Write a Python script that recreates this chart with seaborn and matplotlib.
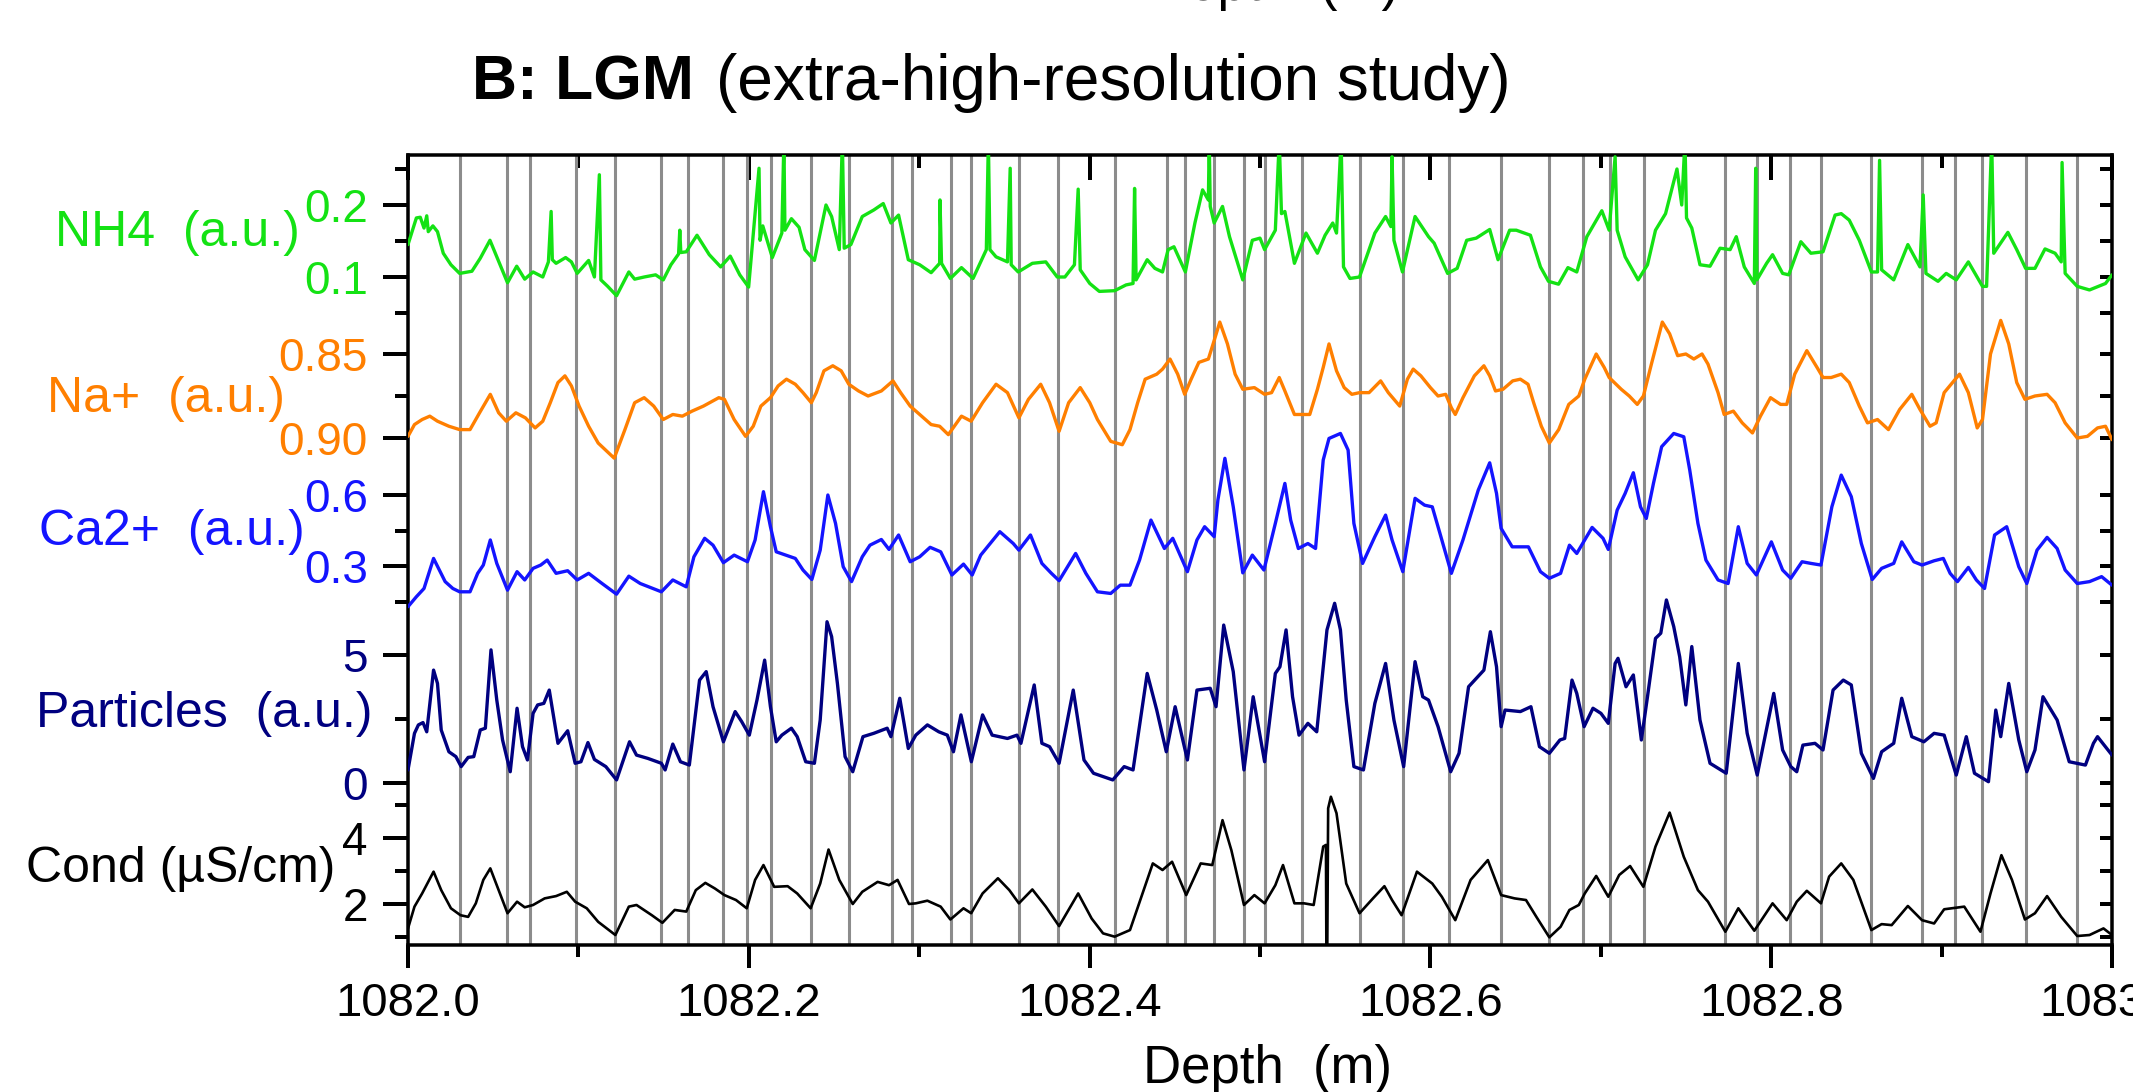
import matplotlib
matplotlib.use("Agg")
import numpy as np
import pandas as pd
import matplotlib.pyplot as plt
import seaborn as sns
from matplotlib.ticker import NullFormatter

OUT_PATH = "out.png"

# depth of the left edge of the section (m); every position below is in mm under it
SECTION_TOP = 1082.0

# annual layer marks
LAYER_MM = [30.3, 58.3, 71.6, 98.5, 121.2, 148.7, 164.4, 184.6, 198.7, 213.1,
            236.7, 258.7, 283.9, 295.7, 318.7, 330.6, 358.5, 381.4, 415.1, 445.6,
            455.7, 473.1, 490.6, 502.7, 524.7, 558.4, 584.2, 611.2, 641.5, 669.8,
            689.4, 705.3, 725.4, 773.1, 791.8, 811.0, 829.2, 858.8, 888.4, 907.9,
            923.5, 949.3, 979.6]

NH4_MM = [0.0, 4.9, 7.2, 9.4, 11.0, 11.9, 14.6, 17.3, 20.7, 25.2, 30.3, 37.5, 42.4, 48.1,
          52.1, 58.4, 63.8, 68.5, 73.4, 79.1, 82.4, 84.0, 84.7, 86.9, 92.5, 95.9, 99.3,
          106.0, 109.4, 112.3, 113.2, 117.2, 122.4, 129.6, 133.0, 138.6, 145.3, 149.8,
          154.3, 158.8, 159.5, 160.1, 163.3, 169.6, 176.8, 183.5, 189.1, 194.7, 199.9,
          206.0, 206.6, 208.2, 213.8, 219.4, 220.6, 221.2, 225.0, 229.5, 232.9, 238.5,
          245.3, 248.6, 253.1, 254.9, 256.0, 259.9, 266.6, 273.3, 278.9, 283.4, 287.9,
          293.6, 300.3, 307.0, 312.0, 312.2, 313.1, 318.3, 324.8, 331.6, 339.4, 340.6,
          341.5, 345.1, 351.8, 353.4, 354.0, 358.1, 366.4, 374.3, 381.0, 385.5, 391.1,
          393.3, 394.5, 400.1, 405.7, 414.7, 421.4, 425.5, 426.4, 427.3, 433.8, 438.3,
          442.8, 446.1, 449.5, 456.2, 461.8, 466.3, 469.7, 470.2, 470.8, 473.1, 478.0,
          482.1, 489.9, 495.5, 500.0, 502.7, 509.0, 511.3, 512.6, 514.6, 520.2, 527.0,
          533.7, 538.2, 542.7, 544.9, 547.6, 549.0, 552.8, 558.4, 567.4, 573.7, 576.8,
          577.5, 578.6, 583.6, 591.0, 598.9, 602.2, 610.1, 615.7, 621.3, 626.9, 634.8,
          639.7, 646.5, 650.4, 658.7, 664.6, 669.3, 675.2, 680.7, 685.9, 691.8, 700.6,
          704.9, 708.4, 709.6, 714.3, 721.9, 727.4, 732.1, 738.0, 744.7, 747.5, 749.4,
          750.3, 753.4, 758.2, 764.1, 770.0, 775.9, 779.5, 784.2, 790.1, 790.9, 791.6,
          797.3, 800.8, 806.7, 810.3, 817.4, 823.3, 830.4, 837.5, 841.1, 845.8, 851.7,
          858.8, 862.4, 863.6, 864.8, 871.9, 880.2, 887.3, 889.2, 890.8, 897.9, 902.7,
          908.6, 915.7, 924.0, 926.4, 929.4, 930.6, 938.9, 944.1, 949.3, 954.8, 960.7,
          966.6, 970.2, 970.7, 972.5, 979.6, 986.8, 996.2, 1000.0]
NH4_AU = [0.145, 0.182, 0.183, 0.168, 0.185, 0.163, 0.171, 0.163, 0.133, 0.117, 0.105, 0.108,
          0.126, 0.151, 0.128, 0.092, 0.115, 0.097, 0.107, 0.100, 0.121, 0.191, 0.124, 0.119,
          0.127, 0.121, 0.105, 0.123, 0.100, 0.242, 0.096, 0.087, 0.074, 0.107, 0.097, 0.100,
          0.103, 0.096, 0.117, 0.132, 0.165, 0.134, 0.135, 0.158, 0.131, 0.114, 0.129, 0.103,
          0.086, 0.251, 0.151, 0.171, 0.127, 0.161, 0.290, 0.165, 0.181, 0.169, 0.138, 0.123,
          0.200, 0.184, 0.138, 0.290, 0.140, 0.145, 0.184, 0.193, 0.202, 0.175, 0.186, 0.124,
          0.117, 0.106, 0.119, 0.207, 0.119, 0.098, 0.113, 0.098, 0.138, 0.290, 0.138, 0.128,
          0.121, 0.251, 0.117, 0.107, 0.119, 0.121, 0.100, 0.100, 0.117, 0.222, 0.110, 0.091,
          0.080, 0.081, 0.089, 0.091, 0.223, 0.096, 0.124, 0.112, 0.107, 0.138, 0.142, 0.107,
          0.175, 0.221, 0.207, 0.290, 0.198, 0.175, 0.198, 0.156, 0.096, 0.151, 0.154, 0.138,
          0.165, 0.290, 0.188, 0.191, 0.119, 0.161, 0.133, 0.158, 0.175, 0.161, 0.290, 0.114,
          0.098, 0.100, 0.161, 0.184, 0.170, 0.267, 0.151, 0.107, 0.184, 0.156, 0.147, 0.105,
          0.112, 0.151, 0.154, 0.166, 0.124, 0.165, 0.165, 0.158, 0.114, 0.094, 0.090, 0.113,
          0.107, 0.156, 0.192, 0.165, 0.267, 0.165, 0.128, 0.096, 0.117, 0.165, 0.188, 0.250,
          0.200, 0.290, 0.182, 0.168, 0.117, 0.115, 0.140, 0.138, 0.156, 0.114, 0.091, 0.251,
          0.096, 0.119, 0.131, 0.105, 0.103, 0.149, 0.133, 0.135, 0.186, 0.188, 0.179, 0.151,
          0.107, 0.107, 0.262, 0.110, 0.096, 0.145, 0.114, 0.214, 0.105, 0.094, 0.105, 0.096,
          0.121, 0.087, 0.087, 0.290, 0.133, 0.162, 0.138, 0.112, 0.112, 0.139, 0.133, 0.121,
          0.259, 0.105, 0.087, 0.082, 0.091, 0.103]

NA_MM = [0.0, 3.8, 8.3, 12.8, 17.3, 24.0, 30.3, 36.4, 42.0, 48.3, 53.2, 57.7, 63.3, 68.9,
         74.6, 79.1, 83.5, 88.0, 92.1, 95.9, 100.4, 106.0, 111.6, 121.0, 127.3, 133.0, 138.6,
         144.2, 149.8, 155.4, 161.0, 166.7, 173.4, 182.4, 185.7, 191.4, 198.1, 202.6, 207.1,
         212.7, 217.2, 222.1, 227.3, 231.8, 236.7, 239.6, 244.1, 249.3, 254.2, 258.7, 264.4,
         270.0, 277.8, 284.6, 289.1, 294.7, 300.3, 307.0, 312.0, 317.1, 324.8, 330.5, 337.2,
         345.1, 351.8, 358.5, 364.1, 371.3, 376.5, 382.1, 387.7, 394.5, 400.1, 404.6, 412.4,
         419.2, 423.7, 428.2, 432.6, 439.4, 442.8, 447.2, 451.7, 455.8, 459.6, 464.1, 469.7,
         473.1, 476.4, 480.9, 485.4, 489.9, 496.7, 502.7, 506.8, 511.3, 514.6, 520.2, 524.7,
         529.2, 533.7, 537.1, 540.5, 544.9, 549.4, 553.9, 558.4, 564.0, 570.8, 575.3, 582.0,
         586.5, 589.9, 594.4, 600.0, 604.5, 609.0, 612.3, 614.6, 619.1, 625.8, 631.4, 634.8,
         638.2, 642.6, 648.3, 652.8, 657.3, 660.6, 665.1, 669.8, 675.3, 681.2, 687.1, 690.6,
         697.3, 702.0, 704.9, 712.0, 716.7, 721.4, 725.0, 729.7, 736.1, 740.4, 745.1, 749.9,
         754.6, 759.4, 762.9, 768.8, 772.4, 777.8, 783.0, 789.0, 793.7, 799.6, 805.5, 809.1,
         813.8, 820.9, 826.9, 830.4, 835.2, 841.1, 845.8, 851.7, 856.5, 862.4, 868.8, 875.4,
         882.5, 887.3, 893.2, 896.8, 901.5, 910.5, 915.7, 920.9, 924.0, 928.7, 934.7, 939.4,
         944.1, 948.9, 954.8, 961.9, 966.6, 972.5, 979.6, 985.6, 991.5, 996.2, 1000.0]
NA_AU = [0.899, 0.892, 0.889, 0.887, 0.890, 0.893, 0.895, 0.895, 0.885, 0.874, 0.885, 0.890,
         0.885, 0.888, 0.894, 0.890, 0.879, 0.867, 0.863, 0.869, 0.881, 0.893, 0.903, 0.912,
         0.895, 0.879, 0.876, 0.881, 0.889, 0.886, 0.887, 0.884, 0.881, 0.876, 0.877, 0.889,
         0.899, 0.893, 0.881, 0.876, 0.869, 0.865, 0.868, 0.873, 0.879, 0.873, 0.860, 0.857,
         0.860, 0.868, 0.872, 0.875, 0.872, 0.866, 0.873, 0.881, 0.886, 0.892, 0.893, 0.898,
         0.887, 0.890, 0.879, 0.868, 0.873, 0.888, 0.877, 0.868, 0.879, 0.896, 0.879, 0.870,
         0.879, 0.889, 0.902, 0.904, 0.895, 0.879, 0.865, 0.862, 0.859, 0.853, 0.862, 0.874,
         0.865, 0.855, 0.853, 0.842, 0.831, 0.844, 0.862, 0.871, 0.870, 0.874, 0.873, 0.864,
         0.872, 0.886, 0.886, 0.886, 0.871, 0.858, 0.844, 0.860, 0.870, 0.874, 0.873, 0.873,
         0.866, 0.873, 0.881, 0.865, 0.859, 0.863, 0.870, 0.875, 0.874, 0.882, 0.886, 0.876,
         0.863, 0.857, 0.863, 0.872, 0.871, 0.866, 0.865, 0.868, 0.879, 0.893, 0.903, 0.895,
         0.880, 0.875, 0.865, 0.850, 0.858, 0.864, 0.871, 0.875, 0.880, 0.875, 0.856, 0.831,
         0.838, 0.851, 0.850, 0.853, 0.850, 0.856, 0.873, 0.886, 0.884, 0.891, 0.897, 0.887,
         0.876, 0.880, 0.880, 0.862, 0.848, 0.858, 0.864, 0.864, 0.862, 0.867, 0.881, 0.891,
         0.889, 0.895, 0.883, 0.874, 0.883, 0.893, 0.891, 0.873, 0.862, 0.873, 0.894, 0.889,
         0.850, 0.830, 0.844, 0.867, 0.877, 0.875, 0.874, 0.879, 0.891, 0.900, 0.899, 0.894,
         0.893, 0.901]

CA_MM = [0.0, 4.9, 9.4, 15.0, 18.4, 21.8, 26.3, 30.3, 36.4, 40.9, 44.2, 48.3, 52.1, 58.4,
         64.0, 68.5, 73.4, 77.9, 81.7, 86.9, 93.7, 99.3, 106.0, 113.9, 122.4, 129.6, 136.3,
         148.7, 155.4, 163.3, 167.8, 174.1, 179.0, 185.1, 191.4, 199.2, 203.7, 208.6, 212.7,
         216.1, 221.7, 227.3, 231.8, 237.0, 241.9, 246.4, 250.9, 255.4, 260.3, 266.6, 271.1,
         277.8, 282.3, 287.9, 294.7, 300.3, 306.4, 312.6, 319.2, 326.0, 331.1, 336.1, 347.3,
         355.2, 358.5, 365.3, 372.0, 377.6, 382.1, 391.8, 397.8, 404.6, 412.4, 418.0, 423.7,
         429.3, 436.0, 443.9, 448.8, 457.4, 463.0, 467.5, 473.1, 475.3, 479.4, 484.3, 489.9,
         495.5, 502.3, 509.0, 514.6, 518.0, 522.5, 528.1, 532.6, 537.1, 540.5, 547.2, 551.7,
         555.1, 560.2, 567.4, 573.7, 577.5, 583.8, 591.0, 596.6, 601.1, 605.6, 612.3, 619.1,
         628.1, 634.8, 638.8, 641.5, 648.0, 657.5, 664.6, 669.8, 676.4, 681.6, 685.9, 694.9,
         701.3, 704.4, 709.6, 714.3, 719.1, 723.3, 726.7, 730.9, 735.7, 742.8, 748.7, 752.2,
         757.0, 761.7, 768.8, 774.7, 780.7, 785.9, 791.3, 800.1, 806.7, 811.5, 818.1, 823.3,
         829.2, 835.6, 841.1, 847.0, 852.9, 859.3, 864.8, 871.9, 876.6, 883.7, 888.5, 895.6,
         901.0, 905.0, 909.3, 915.7, 920.4, 925.2, 931.1, 938.2, 945.3, 950.0, 956.0, 961.9,
         967.8, 972.5, 979.6, 986.8, 993.9, 1000.0]
CA_AU = [0.128, 0.170, 0.205, 0.332, 0.283, 0.234, 0.205, 0.191, 0.191, 0.269, 0.304, 0.410,
         0.311, 0.198, 0.276, 0.241, 0.290, 0.304, 0.325, 0.269, 0.280, 0.241, 0.269, 0.226,
         0.181, 0.257, 0.226, 0.191, 0.241, 0.212, 0.339, 0.417, 0.388, 0.314, 0.346, 0.318,
         0.410, 0.614, 0.466, 0.360, 0.346, 0.332, 0.283, 0.243, 0.367, 0.600, 0.480, 0.297,
         0.234, 0.339, 0.388, 0.412, 0.370, 0.431, 0.318, 0.339, 0.379, 0.360, 0.262, 0.308,
         0.262, 0.346, 0.445, 0.395, 0.367, 0.431, 0.311, 0.269, 0.238, 0.353, 0.269, 0.191,
         0.184, 0.219, 0.219, 0.325, 0.494, 0.374, 0.417, 0.276, 0.410, 0.466, 0.424, 0.579,
         0.755, 0.550, 0.271, 0.346, 0.283, 0.480, 0.649, 0.494, 0.374, 0.395, 0.374, 0.748,
         0.839, 0.860, 0.790, 0.480, 0.311, 0.424, 0.515, 0.410, 0.276, 0.586, 0.557, 0.550,
         0.438, 0.269, 0.410, 0.621, 0.736, 0.607, 0.459, 0.381, 0.381, 0.276, 0.248, 0.269,
         0.388, 0.353, 0.463, 0.417, 0.370, 0.536, 0.607, 0.694, 0.550, 0.501, 0.649, 0.804,
         0.860, 0.846, 0.705, 0.480, 0.325, 0.241, 0.226, 0.466, 0.311, 0.262, 0.402, 0.283,
         0.248, 0.318, 0.311, 0.304, 0.550, 0.684, 0.593, 0.395, 0.243, 0.290, 0.311, 0.402,
         0.318, 0.304, 0.322, 0.332, 0.269, 0.234, 0.294, 0.241, 0.205, 0.431, 0.466, 0.297,
         0.226, 0.367, 0.421, 0.374, 0.283, 0.226, 0.234, 0.255, 0.219]

PARTICLES_MM = [0.0, 3.8, 6.1, 8.8, 11.0, 15.0, 17.3, 19.5, 24.0, 28.1, 31.2, 35.3, 38.6,
                42.4, 45.4, 48.7, 52.1, 55.5, 60.0, 64.0, 67.2, 70.1, 73.4, 76.1, 79.7, 82.9,
                85.8, 88.0, 93.7, 98.1, 101.5, 105.6, 109.4, 116.1, 122.4, 130.0, 134.1, 140.8,
                148.7, 150.9, 155.4, 159.9, 165.1, 171.1, 175.0, 179.0, 185.1, 192.0, 195.8,
                200.3, 204.8, 209.3, 212.7, 216.1, 219.4, 225.0, 228.4, 233.4, 238.5, 241.9,
                245.9, 248.6, 252.0, 256.5, 261.0, 267.0, 273.3, 281.2, 283.4, 288.6, 293.6,
                298.0, 304.8, 311.5, 316.5, 320.1, 324.5, 330.6, 337.2, 342.8, 351.8, 357.4,
                359.7, 367.5, 372.0, 376.5, 382.1, 390.4, 396.7, 402.3, 407.9, 413.6, 420.3,
                425.5, 433.8, 439.4, 445.0, 450.2, 457.4, 463.0, 470.8, 474.2, 478.7, 484.3,
                490.6, 496.0, 502.7, 509.0, 511.7, 515.3, 519.1, 522.9, 528.1, 533.3, 539.3,
                543.8, 547.2, 550.6, 555.1, 560.7, 567.4, 573.7, 578.6, 584.3, 591.0, 595.5,
                598.9, 604.5, 611.9, 616.8, 622.4, 631.4, 635.2, 638.8, 641.5, 643.8, 652.8,
                659.0, 664.0, 669.8, 676.0, 678.8, 683.1, 685.9, 690.2, 695.4, 700.1, 704.4,
                708.4, 710.1, 714.8, 719.1, 723.8, 727.4, 732.1, 735.2, 738.5, 742.8, 746.3,
                749.9, 753.4, 758.2, 764.1, 773.6, 780.7, 785.9, 791.8, 801.5, 806.7, 811.5,
                815.0, 818.6, 825.7, 830.4, 836.3, 842.3, 847.0, 852.9, 860.0, 864.8, 871.9,
                876.6, 882.5, 889.6, 895.6, 901.5, 908.6, 914.5, 919.3, 927.5, 931.8, 934.7,
                939.4, 945.3, 950.0, 954.8, 959.5, 967.8, 974.9, 984.4, 989.1, 991.5, 1000.0]
PARTICLES_AU = [0.51, 1.94, 2.27, 2.36, 2.00, 4.41, 3.89, 2.07, 1.22, 1.03, 0.64, 1.00, 1.03,
                2.07, 2.14, 5.20, 3.24, 1.68, 0.44, 2.92, 1.42, 0.90, 2.72, 3.05, 3.11, 3.63,
                2.46, 1.55, 2.04, 0.77, 0.83, 1.58, 0.92, 0.64, 0.12, 1.61, 1.09, 0.96, 0.77,
                0.51, 1.52, 0.83, 0.70, 4.02, 4.35, 2.98, 1.61, 2.79, 2.40, 1.87, 3.24, 4.80,
                2.98, 1.61, 1.87, 2.14, 1.81, 0.83, 0.77, 2.46, 6.30, 5.72, 3.89, 1.03, 0.44,
                1.81, 1.94, 2.14, 1.81, 3.31, 1.35, 1.87, 2.27, 2.00, 1.87, 1.22, 2.66, 0.83,
                2.66, 1.87, 1.74, 1.87, 1.55, 3.83, 1.55, 1.42, 0.77, 3.63, 0.90, 0.38, 0.25,
                0.12, 0.64, 0.51, 4.28, 2.85, 1.22, 2.98, 0.90, 3.63, 3.70, 2.98, 6.17, 4.35,
                0.51, 3.37, 0.83, 4.28, 4.54, 5.98, 3.37, 1.87, 2.33, 2.00, 5.98, 7.02, 5.98,
                3.24, 0.64, 0.51, 3.11, 4.67, 2.46, 0.64, 4.74, 3.37, 3.24, 2.20, 0.44, 1.16,
                3.76, 4.41, 5.91, 4.54, 2.20, 2.85, 2.79, 2.98, 1.42, 1.16, 1.68, 1.74, 4.02,
                3.50, 2.20, 2.92, 2.72, 2.33, 4.67, 4.87, 3.76, 4.22, 1.68, 3.37, 5.65, 5.85,
                7.15, 6.11, 4.93, 3.05, 5.33, 2.46, 0.77, 0.38, 4.67, 1.94, 0.31, 3.50, 1.29,
                0.64, 0.44, 1.48, 1.55, 1.29, 3.63, 4.02, 3.83, 1.16, 0.18, 1.22, 1.55, 3.31,
                1.81, 1.61, 1.94, 1.87, 0.31, 1.81, 0.38, 0.05, 2.85, 1.81, 3.89, 1.68, 0.44,
                1.29, 3.37, 2.46, 0.83, 0.70, 1.55, 1.81, 1.09]

COND_MM = [0.0, 3.8, 8.3, 15.0, 19.5, 25.2, 30.8, 35.3, 39.8, 44.2, 48.3, 53.2, 58.4, 64.0,
           68.5, 73.4, 80.2, 86.9, 93.2, 98.1, 104.9, 111.6, 121.7, 129.6, 134.1, 143.1, 149.3,
           156.5, 163.3, 168.9, 174.5, 180.1, 185.7, 192.5, 198.8, 203.7, 208.6, 214.9, 222.8,
           228.4, 236.3, 241.9, 246.8, 253.1, 261.0, 266.6, 275.6, 282.3, 287.3, 294.0, 298.0,
           304.8, 312.6, 318.3, 326.0, 330.5, 337.2, 346.2, 352.9, 358.5, 366.4, 374.3, 382.1,
           393.3, 401.2, 407.9, 414.7, 423.7, 430.4, 437.1, 442.8, 448.4, 456.7, 465.2, 472.0,
           478.0, 483.2, 490.6, 496.7, 502.7, 509.0, 513.5, 520.2, 525.9, 531.5, 537.1, 538.7,
           539.0, 539.4, 540.0, 541.6, 544.9, 550.6, 558.4, 566.3, 573.0, 577.5, 583.1, 592.1,
           601.1, 606.7, 614.6, 623.6, 633.7, 641.5, 649.4, 656.1, 662.2, 669.8, 676.4, 681.6,
           687.1, 690.6, 697.3, 704.4, 710.8, 717.2, 725.0, 732.1, 740.4, 748.7, 757.0, 762.9,
           773.1, 780.7, 790.1, 800.8, 809.1, 815.0, 820.9, 829.2, 834.0, 841.1, 848.2, 858.8,
           864.8, 870.7, 880.2, 888.5, 895.6, 901.5, 913.3, 922.8, 928.7, 935.1, 941.3, 948.9,
           954.8, 961.9, 970.2, 979.6, 986.8, 995.0, 1000.0]
COND_US = [1.26, 1.92, 2.32, 2.98, 2.42, 1.87, 1.66, 1.61, 2.02, 2.73, 3.08, 2.42, 1.72, 2.07,
           1.90, 1.97, 2.17, 2.24, 2.37, 2.07, 1.87, 1.46, 1.06, 1.92, 1.97, 1.66, 1.43, 1.82,
           1.77, 2.42, 2.64, 2.47, 2.27, 2.12, 1.87, 2.73, 3.18, 2.52, 2.54, 2.32, 1.87, 2.62,
           3.65, 2.73, 2.00, 2.37, 2.67, 2.57, 2.73, 2.00, 2.02, 2.10, 1.92, 1.53, 1.87, 1.72,
           2.32, 2.78, 2.42, 2.02, 2.44, 1.92, 1.33, 2.32, 1.56, 1.11, 1.01, 1.21, 2.22, 3.23,
           3.03, 3.28, 2.27, 3.23, 3.18, 4.54, 3.63, 1.97, 2.27, 2.02, 2.57, 3.18, 2.02, 2.02,
           1.97, 3.74, 3.79, 0.00, 0.00, 4.90, 5.25, 4.75, 2.62, 1.72, 2.17, 2.54, 2.12, 1.66,
           2.98, 2.62, 2.22, 1.51, 2.73, 3.33, 2.27, 2.17, 2.12, 1.61, 0.99, 1.31, 1.82, 1.97,
           2.32, 2.85, 2.22, 2.88, 3.15, 2.52, 3.74, 4.77, 3.43, 2.42, 2.07, 1.16, 1.87, 1.19,
           2.02, 1.51, 2.07, 2.40, 2.02, 2.83, 3.23, 2.73, 1.21, 1.39, 1.36, 1.94, 1.51, 1.41,
           1.84, 1.92, 1.16, 2.32, 3.48, 2.73, 1.53, 1.72, 2.24, 1.61, 1.03, 1.06, 1.26, 1.06]

GREEN = "#14e214"
ORANGE = "#ff7f00"
BLUE = "#1414ff"
NAVY = "#000080"
BLACK = "#000000"
LAYER_GREY = "#8c8c8c"

# page layout, in output pixels
FIG_W, FIG_H, DPI = 2133, 1092, 100
BOX_LEFT, BOX_TOP, BOX_RIGHT, BOX_BOTTOM = 408, 155, 2112, 945


def fx(x):
    return x / FIG_W


def fy(y):
    return 1 - y / FIG_H


def pt(px):
    return px * 72 / DPI


def ylim_from_rows(v1, row1, v2, row2):
    # each trace has its own scale: two tick values and the pixel rows they sit on
    slope = (v2 - v1) / (row2 - row1)
    return v1 + (BOX_BOTTOM - row1) * slope, v1 + (BOX_TOP - row1) * slope


TRACES = [
    dict(label="NH4  (a.u.)", color=GREEN, mm=NH4_MM, val=NH4_AU, lw=2.4,
         rows=(0.1, 277, 0.2, 205), major=[0.1, 0.2], labels=["0.1", "0.2"],
         minor=[0.05, 0.15, 0.25], text_at=(300, 246)),
    dict(label="Na+  (a.u.)", color=ORANGE, mm=NA_MM, val=NA_AU, lw=2.4,
         rows=(0.85, 354, 0.90, 438), major=[0.85, 0.90], labels=["0.85", "0.90"],
         minor=[0.875], text_at=(285, 412)),
    dict(label="Ca2+  (a.u.)", color=BLUE, mm=CA_MM, val=CA_AU, lw=2.4,
         rows=(0.3, 566, 0.6, 495), major=[0.3, 0.6], labels=["0.3", "0.6"],
         minor=[0.15, 0.45], text_at=(305, 545)),
    dict(label="Particles  (a.u.)", color=NAVY, mm=PARTICLES_MM, val=PARTICLES_AU, lw=2.4,
         rows=(0.0, 783, 5.0, 655), major=[0.0, 5.0], labels=["0", "5"],
         minor=[2.5], text_at=(373, 727)),
    dict(label="Cond (\u00b5S/cm)", color=BLACK, mm=COND_MM, val=COND_US, lw=1.9,
         rows=(2.0, 904, 4.0, 838), major=[2.0, 4.0], labels=["2", "4"],
         minor=[1.0, 3.0, 5.0], text_at=(335, 882)),
]


def main():
    sns.set_theme(style="white")
    plt.rcParams["font.family"] = ["Liberation Sans", "DejaVu Sans"]
    plt.rcParams["text.color"] = "black"
    plt.rcParams["axes.labelcolor"] = "black"
    plt.rcParams["xtick.color"] = "black"
    plt.rcParams["ytick.color"] = "black"
    plt.rcParams["axes.linewidth"] = pt(3.5)

    fig = plt.figure(figsize=(FIG_W / DPI, FIG_H / DPI), dpi=DPI)
    rect = [fx(BOX_LEFT), fy(BOX_BOTTOM),
            (BOX_RIGHT - BOX_LEFT) / FIG_W, (BOX_BOTTOM - BOX_TOP) / FIG_H]

    base = fig.add_axes(rect)
    base.set_facecolor("white")
    for spine in base.spines.values():
        spine.set_color("black")
        spine.set_linewidth(pt(3.5))
    for mm in LAYER_MM:
        base.axvline(SECTION_TOP + mm / 1000, color=LAYER_GREY, lw=2.2, zorder=1)
    base.set_yticks([])

    for tr in TRACES:
        ax = fig.add_axes(rect, sharex=base)
        ax.patch.set_visible(False)
        for spine in ax.spines.values():
            spine.set_visible(False)
        df = pd.DataFrame({"depth": SECTION_TOP + np.array(tr["mm"]) / 1000,
                           "value": tr["val"]})
        sns.lineplot(data=df, x="depth", y="value", ax=ax, color=tr["color"],
                     linewidth=tr["lw"], estimator=None, sort=False, legend=False,
                     solid_joinstyle="round", solid_capstyle="round")
        ax.set_xlabel("")
        ax.set_ylabel("")
        ax.xaxis.set_visible(False)
        ax.set_ylim(*ylim_from_rows(*tr["rows"]))
        ax.set_yticks(tr["major"], labels=tr["labels"])
        ax.set_yticks(tr["minor"], minor=True)
        ax.tick_params(axis="y", which="major", direction="out", length=pt(25),
                       width=pt(4), pad=pt(15), labelsize=33, color="black",
                       labelcolor=tr["color"], left=True)
        ax.tick_params(axis="y", which="minor", direction="out", length=pt(13),
                       width=pt(4), color="black", left=True)

        right = ax.secondary_yaxis("right")
        right.set_yticks(tr["major"] + tr["minor"])
        right.yaxis.set_major_formatter(NullFormatter())
        right.tick_params(axis="y", direction="in", length=pt(12), width=pt(4), color="black")
        right.spines["right"].set_visible(False)

        x, y = tr["text_at"]
        fig.text(fx(x), fy(y), tr["label"], color=tr["color"], fontsize=36,
                 ha="right", va="baseline")

    base.set_xlim(SECTION_TOP, SECTION_TOP + 1.0)
    major_x = SECTION_TOP + np.arange(0, 1.01, 0.2)
    minor_x = SECTION_TOP + np.arange(0.1, 1.0, 0.2)
    base.set_xticks(major_x, labels=[f"{v:.1f}" for v in major_x])
    base.set_xticks(minor_x, minor=True)
    base.tick_params(axis="x", which="major", direction="out", length=pt(23),
                     width=pt(4), pad=pt(14), labelsize=34, color="black",
                     labelcolor="black", bottom=True)
    base.tick_params(axis="x", which="minor", direction="out", length=pt(12),
                     width=pt(4), color="black", bottom=True)

    top = base.secondary_xaxis("top")
    top.set_xticks(major_x)
    top.set_xticks(minor_x, minor=True)
    top.xaxis.set_major_formatter(NullFormatter())
    top.tick_params(axis="x", which="major", direction="in", length=pt(25), width=pt(4),
                    color="black")
    top.tick_params(axis="x", which="minor", direction="in", length=pt(13), width=pt(4),
                    color="black")
    top.spines["top"].set_visible(False)

    # axis title below, and the tail of the panel above poking in at the top edge
    fig.text(fx(1143), fy(1083), "Depth  (m)", fontsize=38, color="black",
             ha="left", va="baseline")
    fig.text(fx(1150), 1.0, "Depth  (m)", fontsize=38, color="black",
             ha="left", va="baseline")

    bold = fig.text(fx(472), fy(100), "B: LGM", fontsize=45, fontweight="bold",
                    color="black", ha="left", va="baseline")
    renderer = fig.canvas.get_renderer()
    box = bold.get_window_extent(renderer)
    fig.text((box.x1 + 22) / FIG_W, fy(100), "(extra-high-resolution study)",
             fontsize=46, color="black", ha="left", va="baseline")

    fig.savefig(OUT_PATH, dpi=DPI)
    plt.close(fig)


if __name__ == "__main__":
    main()
